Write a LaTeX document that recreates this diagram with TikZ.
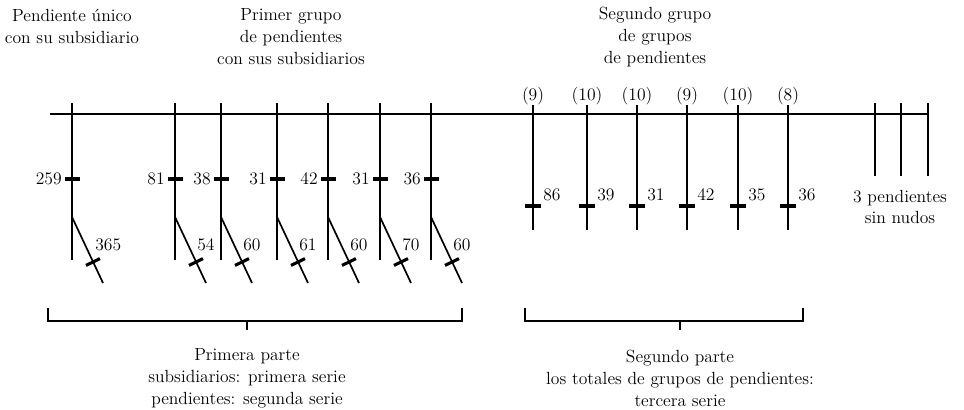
\documentclass[tikz,border=0pt]{standalone}
\usepackage{tikz}
\usetikzlibrary{calc}
\tikzset{>=stealth}
\tikzset{
  cord/.style={line width=1.2pt},
  knot/.style={line width=2.2pt},
  lbl/.style={inner sep=0pt,font=\fontsize{12.5}{15.6}\selectfont},
  txt/.style={lbl,align=center}
}

\begin{document}
\begin{tikzpicture}[x=0.025cm,y=-0.025cm]
    \useasboundingbox (0,0) rectangle (964,409);
    % cuerda principal
    \draw[cord] (50,114) -- (928,114);
    % pendiente unico y primer grupo
    \draw[cord] (72,103) -- (72,260);
    \draw[cord] (175,103) -- (175,260);
    \draw[cord] (221,103) -- (221,260);
    \draw[cord] (277,103) -- (277,260);
    \draw[cord] (328,103) -- (328,260);
    \draw[cord] (380,103) -- (380,260);
    \draw[cord] (431,103) -- (431,260);
    \draw[knot] (65,179) -- (80,179);
    \draw[knot] (168,179) -- (183,179);
    \draw[knot] (214,179) -- (229,179);
    \draw[knot] (270,179) -- (285,179);
    \draw[knot] (321,179) -- (336,179);
    \draw[knot] (373,179) -- (388,179);
    \draw[knot] (424,179) -- (439,179);
    \node[lbl,anchor=east] (p1) at (62,179) {259};
    \node[lbl,anchor=east] (p2) at (165,179) {81};
    \node[lbl,anchor=east] (p3) at (211,179) {38};
    \node[lbl,anchor=east] (p4) at (267,179) {31};
    \node[lbl,anchor=east] (p5) at (318,179) {42};
    \node[lbl,anchor=east] (p6) at (370,179) {31};
    \node[lbl,anchor=east] (p7) at (421,179) {36};
    % subsidiarios
    \draw[cord] (72,217) -- ++(31,66);
    \draw[cord] (175,217) -- ++(31,66);
    \draw[cord] (221,217) -- ++(31,66);
    \draw[cord] (277,217) -- ++(31,66);
    \draw[cord] (328,217) -- ++(31,66);
    \draw[cord] (380,217) -- ++(31,66);
    \draw[cord] (431,217) -- ++(31,66);
    \draw[knot] (72,217) ++(14,48.4) -- ++(14,-6.8);
    \draw[knot] (175,217) ++(14,48.4) -- ++(14,-6.8);
    \draw[knot] (221,217) ++(14,48.4) -- ++(14,-6.8);
    \draw[knot] (277,217) ++(14,48.4) -- ++(14,-6.8);
    \draw[knot] (328,217) ++(14,48.4) -- ++(14,-6.8);
    \draw[knot] (380,217) ++(14,48.4) -- ++(14,-6.8);
    \draw[knot] (431,217) ++(14,48.4) -- ++(14,-6.8);
    \node[lbl,anchor=west] (s1) at (95,245) {365};
    \node[lbl,anchor=west] (s2) at (197,245) {54};
    \node[lbl,anchor=west] (s3) at (243,245) {60};
    \node[lbl,anchor=west] (s4) at (299,245) {61};
    \node[lbl,anchor=west] (s5) at (350,245) {60};
    \node[lbl,anchor=west] (s6) at (402,245) {70};
    \node[lbl,anchor=west] (s7) at (453,245) {60};
    % segundo grupo
    \draw[cord] (533,105) -- (533,230);
    \draw[cord] (587,105) -- (587,230);
    \draw[cord] (637,105) -- (637,230);
    \draw[cord] (687,105) -- (687,230);
    \draw[cord] (738,105) -- (738,230);
    \draw[cord] (788,105) -- (788,230);
    \draw[knot] (525,206) -- (541,206);
    \draw[knot] (579,206) -- (595,206);
    \draw[knot] (629,206) -- (645,206);
    \draw[knot] (679,206) -- (695,206);
    \draw[knot] (730,206) -- (746,206);
    \draw[knot] (780,206) -- (796,206);
    \node[lbl] (n1) at (533,96) {(9)};
    \node[lbl] (n2) at (587,96) {(10)};
    \node[lbl] (n3) at (637,96) {(10)};
    \node[lbl] (n4) at (687,96) {(9)};
    \node[lbl] (n5) at (738,96) {(10)};
    \node[lbl] (n6) at (788,96) {(8)};
    \node[lbl,anchor=west] (t1) at (543,195) {86};
    \node[lbl,anchor=west] (t2) at (597,195) {39};
    \node[lbl,anchor=west] (t3) at (647,195) {31};
    \node[lbl,anchor=west] (t4) at (697,195) {42};
    \node[lbl,anchor=west] (t5) at (748,195) {35};
    \node[lbl,anchor=west] (t6) at (798,195) {36};
    % sin nudos
    \draw[cord] (875,103) -- (875,176);
    \draw[cord] (901,103) -- (901,176);
    \draw[cord] (928,103) -- (928,176);
    \node[txt] (sinnudos) at (900,207) {3 pendientes\\sin nudos};
    % titulos
    \node[txt] (unico) at (72,26) {Pendiente único\\con su subsidiario};
    \node[txt] (primero) at (291,37) {Primer grupo\\de pendientes\\con sus subsidiarios};
    \node[txt] (segundo) at (655,37) {Segundo grupo\\de grupos\\de pendientes};
    % llaves
    \draw[cord] (48,308) -- (48,321) -- (462,321) -- (462,308);
    \draw[cord] (247,321) -- (247,330);
    \draw[cord] (525,308) -- (525,321) -- (803,321) -- (803,308);
    \draw[cord] (680,321) -- (680,330);
    \node[txt] (parte1) at (247,378) {Primera parte\\subsidiarios: primera serie\\pendientes: segunda serie};
    \node[txt] (parte2) at (680,378) {Segundo parte\\los totales de grupos de pendientes:\\tercera serie};
\end{tikzpicture}
\end{document}
